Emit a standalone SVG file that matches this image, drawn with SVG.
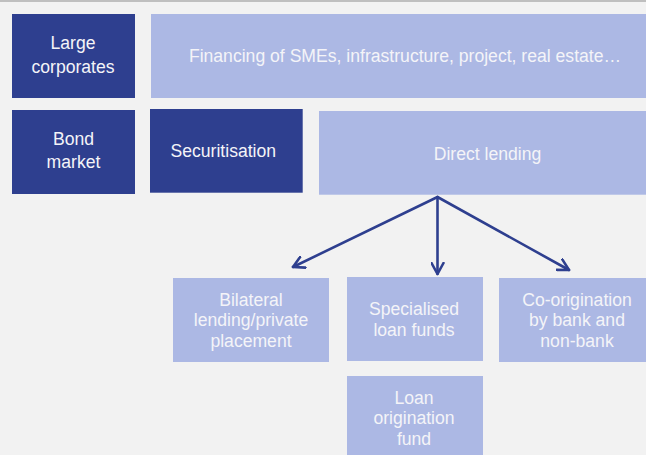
<svg xmlns="http://www.w3.org/2000/svg" width="646" height="455" viewBox="0 0 646 455">
<defs>
<style>
.dark{fill:#2E3F8F}
.light{fill:#ACB8E4}
.t{font-family:"Liberation Sans",Arial,sans-serif;font-size:17.6px;fill:#F4F4F8;text-anchor:middle}
.c{stroke:#2E3F8F;stroke-width:2.6;fill:none;stroke-linecap:round;stroke-linejoin:round}
</style>
<marker id="ah" viewBox="0 0 14 14" refX="12" refY="7" markerWidth="14" markerHeight="14" markerUnits="userSpaceOnUse" orient="auto">
<path d="M1,1 L12,7 L1,13" fill="none" stroke="#2E3F8F" stroke-width="2.6" stroke-linecap="round" stroke-linejoin="round"/>
</marker>
</defs>
<rect width="646" height="455" fill="#F2F2F2"/>
<line x1="0" y1="1" x2="646" y2="1" stroke="#8C8C8C" stroke-width="1.2"/>
<g id="large-corporates">
<rect class="dark" x="12" y="14" width="123" height="84"/>
<text class="t" x="73" y="48.5">Large</text>
<text class="t" x="73" y="72.5">corporates</text>
</g>
<g id="financing">
<rect class="light" x="151" y="14" width="495" height="84"/>
<text class="t" x="405" y="61.7">Financing of SMEs, infrastructure, project, real estate…</text>
</g>
<g id="bond-market">
<rect class="dark" x="12" y="110" width="123" height="84"/>
<text class="t" x="73.5" y="145">Bond</text>
<text class="t" x="73.5" y="168.3">market</text>
</g>
<g id="securitisation">
<rect class="dark" x="150" y="109" width="152.7" height="83.7"/>
<text class="t" x="223.3" y="157.3">Securitisation</text>
</g>
<g id="direct-lending">
<rect class="light" x="319" y="111" width="327" height="83.7"/>
<text class="t" x="487.5" y="160">Direct lending</text>
</g>
<g id="connectors">
<line class="c" x1="437.5" y1="197" x2="293" y2="267" marker-end="url(#ah)"/>
<line class="c" x1="437.5" y1="197" x2="437.5" y2="274" marker-end="url(#ah)"/>
<line class="c" x1="437.5" y1="197" x2="569" y2="270" marker-end="url(#ah)"/>
</g>
<g id="bilateral">
<rect class="light" x="173" y="278" width="156" height="84"/>
<text class="t" x="251" y="305.7">Bilateral</text>
<text class="t" x="251" y="326.2">lending/private</text>
<text class="t" x="251" y="346.7">placement</text>
</g>
<g id="specialised">
<rect class="light" x="347" y="277" width="136" height="84"/>
<text class="t" x="414" y="315">Specialised</text>
<text class="t" x="414" y="335.5">loan funds</text>
</g>
<g id="co-origination">
<rect class="light" x="499" y="278" width="147" height="84"/>
<text class="t" x="577" y="305.7">Co-origination</text>
<text class="t" x="577" y="326.2">by bank and</text>
<text class="t" x="577" y="346.7">non-bank</text>
</g>
<g id="loan-origination">
<rect class="light" x="347" y="376" width="136" height="79"/>
<text class="t" x="414" y="403.7">Loan</text>
<text class="t" x="414" y="424.2">origination</text>
<text class="t" x="414" y="444.7">fund</text>
</g>
</svg>
